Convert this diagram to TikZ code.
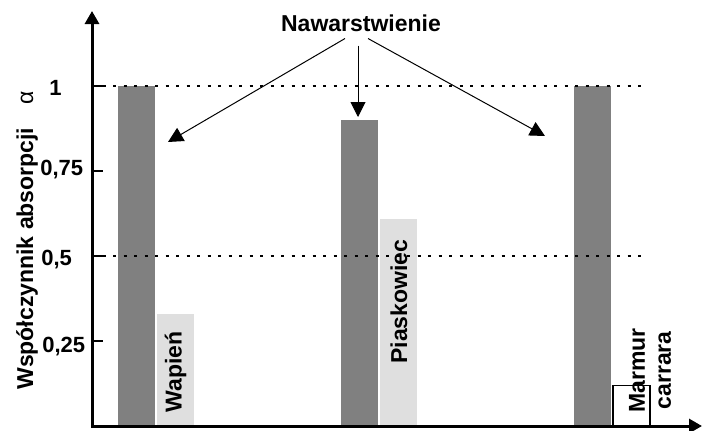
\documentclass[tikz,border=0pt]{standalone}
\usepackage{fontspec}
\setmainfont{Liberation Sans}
\usepackage{xcolor}
\definecolor{cBar}{HTML}{808080}
\definecolor{cBarLight}{HTML}{DFDFDF}
\usepackage{tikz}
\usetikzlibrary{positioning,arrows.meta}
\tikzset{
  bar-dark/.style={fill=cBar},
  bar-light/.style={fill=cBarLight},
  bar-empty/.style={draw=black,line width=0.6pt,fill=white},
  bar-label/.style={rotate=90,anchor=west,inner sep=0pt,align=center,
    font=\bfseries\fontsize{11.5}{13}\selectfont},
  axis/.style={line width=1.5pt,-{Triangle[length=6.5pt,width=7pt]}},
  level-line/.style={line width=1pt,dash pattern=on 1.5pt off 3.75pt},
  tick-mark/.style={line width=1pt},
  tick-label/.style={anchor=base west,inner sep=0pt,
    font=\bfseries\fontsize{11}{13}\selectfont},
  arrow/.style={-{Triangle[length=7.5pt,width=7.5pt]},line width=0.5pt},
}

\begin{document}
\begin{tikzpicture}[x=0.5pt,y=0.5pt]
  \useasboundingbox (0,0) rectangle (702,430);
  \coordinate (O) at (92,4);
  \coordinate (ytop) at (92,419);
  \coordinate (xend) at (702,4);
  % data: y in units of alpha
  \begin{scope}[shift={(0,4)},y=170pt]
    \foreach \x/\v in {118/1, 341/0.9, 574/1}
      \fill[bar-dark] (\x,0) rectangle ++(37,\v);
    \foreach \x/\v in {157/0.33, 380/0.61}
      \fill[bar-light] (\x,0) rectangle ++(37,\v);
    \draw[bar-empty] (613,0) rectangle ++(37,0.12);
    \foreach \v in {1,0.5}
      \draw[level-line] (92,\v) -- (645,\v);
    \foreach \v in {0.25,0.5,0.75,1}
      \draw[tick-mark] (92,\v) -- ++(11,0);
  \end{scope}
  \draw[axis] (92,2.5) -- (ytop);
  \draw[axis] (O) -- (xend);
  \foreach \name/\lx/\ly/\txt in {l100/49/335/1, l075/40/255/{0,75},
      l050/41/165/{0,5}, l025/42/78/{0,25}}
    \node[tick-label] (\name) at (\lx,\ly) {\txt};
  \node[rotate=90,anchor=base,font=\bfseries\fontsize{11.5}{13}\selectfont]
    (ylab) at (33,189.5) {Współczynnik absorpcji\quad{\mdseries α}};
  \node[bar-label] (wapien) at (175.5,17) {Wapień};
  \node[bar-label] (piask) at (399,66) {Piaskowiec};
  \node[bar-label] (marmur) at (650,17) {Marmur\\carrara};
  % nawarstwienie
  \node[font=\bfseries\fontsize{11.5}{13}\selectfont] (naw) at (361,407) {Nawarstwienie};
  \coordinate (tipW) at (168,288);
  \coordinate (tipC) at (358,313);
  \coordinate (tipE) at (545,294);
  \draw[arrow] ([xshift=-8pt]naw.south) -- (tipW);
  \draw[arrow] ([xshift=-1.5pt,yshift=-3.5pt]naw.south) -- (tipC);
  \draw[arrow] ([xshift=3.5pt]naw.south) -- (tipE);
\end{tikzpicture}
\end{document}
